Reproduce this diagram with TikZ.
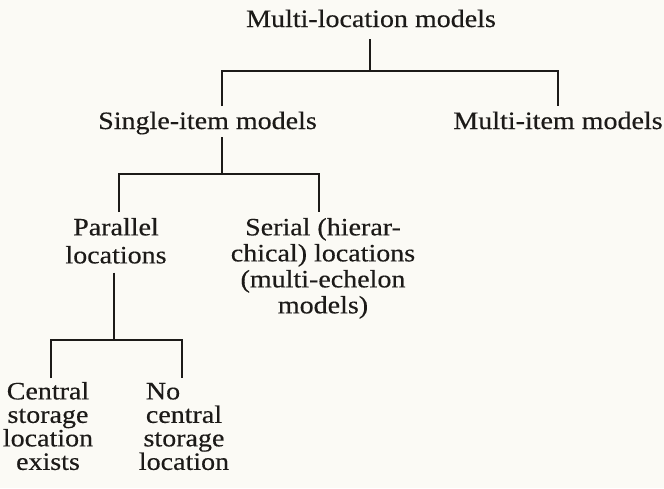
\documentclass[tikz,border=0pt]{standalone}
\usepackage{fontspec}
\setmainfont{Liberation Serif}[FakeStretch=1.12,FakeBold=0.4]
\definecolor{paper}{RGB}{251,250,245}
\definecolor{ink}{RGB}{28,26,24}
\begin{document}
\begin{tikzpicture}[x=1pt,y=-1pt,
  label/.style={inner sep=0pt, outer sep=0pt, text=ink, align=center},
  tree/.style={draw=ink, line width=1.5pt}]
% page
\fill[paper] (0,0) rectangle (664,488);
\useasboundingbox (0,0) rectangle (664,488);

% level 0
\node[label, anchor=base, font=\fontsize{25}{28}\selectfont] (root) at (371,27) {Multi-location models};
% level 1
\node[label, anchor=base, font=\fontsize{25}{28}\selectfont] (single) at (207.5,129) {Single-item models};
\node[label, anchor=base, font=\fontsize{25}{28}\selectfont] (multi) at (558,129) {Multi-item models};
% level 2
\node[label, anchor=north, font=\fontsize{25}{28}\selectfont] (parallel) at (116,218) {Parallel\\locations};
\node[label, anchor=north, font=\fontsize{25}{26}\selectfont] (serial) at (323,218) {Serial (hierar-\\chical) locations\\(multi-echelon\\models)};
% level 3
\node[label, anchor=north, font=\fontsize{25}{23.5}\selectfont] (central) at (48,382) {Central\\storage\\location\\exists};
\node[label, anchor=north, font=\fontsize{25}{23.5}\selectfont] (nocentral) at (184,382) {\rlap{No}\phantom{central}\\central\\storage\\location};

% junction points of the brackets
\coordinate (j1) at (370,71);
\coordinate (d1l) at (222,106);
\coordinate (d1r) at (558,106);
\coordinate (j2) at (222,174);
\coordinate (d2l) at (119,212);
\coordinate (d2r) at (319,212);
\coordinate (j3) at (114,340);
\coordinate (d3l) at (51,378);
\coordinate (d3r) at (182,378);

% root -> single / multi
\draw[tree] (root.base -| j1) ++(0,12) -- (j1);
\draw[tree] (d1l) -- (d1l |- j1) -- (d1r |- j1) -- (d1r);
% single -> parallel / serial
\draw[tree] (single.base -| j2) ++(0,8) -- (j2);
\draw[tree] (d2l) -- (d2l |- j2) -- (d2r |- j2) -- (d2r);
% parallel -> central / no central
\draw[tree] (parallel.south -| j3) ++(0,9) -- (j3);
\draw[tree] (d3l) -- (d3l |- j3) -- (d3r |- j3) -- (d3r);
\end{tikzpicture}
\end{document}
